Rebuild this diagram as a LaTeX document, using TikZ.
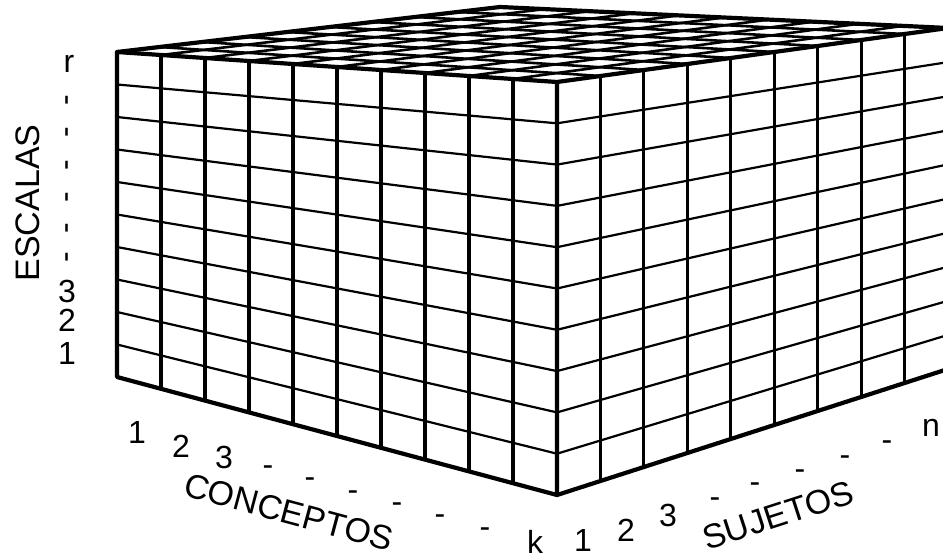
\documentclass[tikz,border=0pt]{standalone}
\usepackage{fontspec}
\setmainfont{Liberation Sans}
\usetikzlibrary{calc}

\begin{document}
\begin{tikzpicture}[x=1pt, y=-1pt,
  edge/.style={line width=4.2pt, line join=round, line cap=round},
  vline/.style={line width=3.2pt},
  hline/.style={line width=2.2pt},
  topline/.style={line width=2.6pt},
  word/.style={inner sep=0pt, font=\fontsize{34}{34}\selectfont},
  num/.style={inner sep=0pt, font=\fontsize{32}{32}\selectfont}]
\useasboundingbox (0,0) rectangle (943,559);
% corners of the block
\coordinate (lt) at (117,52);
\coordinate (lb) at (117,377);
\coordinate (ft) at (557,82);
\coordinate (fb) at (557,495);
\coordinate (rt) at (948,28);
\coordinate (rb) at (948,369);
\coordinate (bk) at (500,7);
% left face: conceptos x escalas
\foreach \i in {1,...,9} \draw[vline] ($(lt)!\i/10!(ft)$) -- ($(lb)!\i/10!(fb)$);
\foreach \j in {1,...,9} \draw[hline] ($(lt)!\j/10!(lb)$) -- ($(ft)!\j/10!(fb)$);
% right face: sujetos x escalas
\foreach \i in {1,...,8} \draw[vline] ($(ft)!\i/9!(rt)$) -- ($(fb)!\i/9!(rb)$);
\foreach \j in {1,...,9} \draw[hline] ($(ft)!\j/10!(fb)$) -- ($(rt)!\j/10!(rb)$);
% top face
\foreach \i in {1,...,9} \draw[topline] ($(lt)!\i/10!(ft)$) -- ($(bk)!\i/10!(rt)$);
\foreach \j in {1,...,8} \draw[topline] ($(ft)!\j/9!(rt)$) -- ($(lt)!\j/9!(bk)$);
% outline
\draw[edge] (lt) -- (bk) -- (rt) -- (rb) -- (fb) -- (lb) -- cycle;
\draw[edge] (lt) -- (ft) -- (rt) (ft) -- (fb);
% escalas axis
\node[word, rotate=90] (escalas) at (28,203) {ESCALAS};
\node[num] (e1) at (67,353) {1};
\node[num] (e2) at (67,320) {2};
\node[num] (e3) at (67,291) {3};
\foreach \y [count=\n] in {257,228,197,165,132,100} \node[num, rotate=90] (ed\n) at (71,\y) {-};
\node[num] (er) at (69,64) {r};
% conceptos axis
\node[num] (c1) at (137,432) {1};
\node[num] (c2) at (181,446) {2};
\node[num] (c3) at (224,457) {3};
\foreach \x/\y [count=\n] in {268/468, 310/480, 353/493, 397/505, 440/517, 485/530} \node[num] (cd\n) at (\x,\y+3) {-};
\node[num] (ck) at (535,542) {k};
\node[word, rotate=-15] (conceptos) at (289,512) {CONCEPTOS};
% sujetos axis
\node[num] (s1) at (583,540) {1};
\node[num] (s2) at (626,530) {2};
\node[num] (s3) at (668,515) {3};
\foreach \x/\y [count=\n] in {715/500, 755/485, 800/472, 845/458, 887/443} \node[num] (sd\n) at (\x,\y+3) {-};
\node[num] (sn) at (931,428) {n};
\node[word, rotate=18] (sujetos) at (778,515) {SUJETOS};
\end{tikzpicture}
\end{document}
